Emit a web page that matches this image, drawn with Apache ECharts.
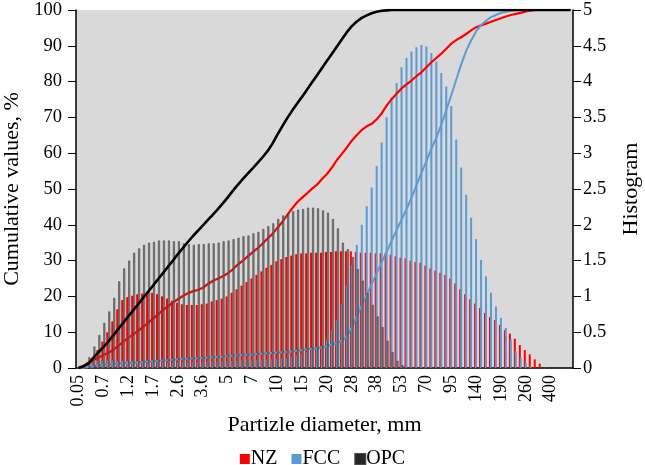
<!DOCTYPE html>
<html>
<head>
<meta charset="utf-8">
<script src="https://cdn.jsdelivr.net/npm/echarts@6/dist/echarts.min.js"></script>
<style>
  html, body { margin: 0; padding: 0; background: #fff; }
  #chart { width: 645px; height: 465px; }
</style>
</head>
<body>
<div id="chart"></div>
<script>
// size classes, mm (label shown every 5th class)
const sizes = ['0.05','0.53','0.57','0.61','0.65','0.7','0.78','0.87','0.97','1.08',
  '1.2','1.28','1.37','1.47','1.58','1.7','1.9','2.05','2.2','2.4',
  '2.6','2.8','3','3.2','3.4','3.6','3.8','4.1','4.4','4.7',
  '5','5.4','5.8','6.2','6.6','7','7.5','8.1','8.7','9.3',
  '10','10.9','11.8','12.8','13.9','15','15.9','16.9','17.9','18.9',
  '20','21.4','22.9','24.5','26.2','28','29.8','31.8','33.8','35.8',
  '38','40.6','43.4','46.4','49.6','53','55.9','59.1','62.6','66.2',
  '70','74.3','78.8','83.8','89.2','95','102','111','120','129',
  '140','148','156','166','178','190','202','215','229','244',
  '260','283','307','335','366','400','435','475','515','560'];

// histogram values (right axis)
const nzHist = [0,0.02,0.08,0.14,0.25,0.37,0.5,0.65,0.82,0.95,
  0.99,1.01,1.03,1.04,1.05,1.05,1.03,1.0,0.97,0.94,
  0.91,0.89,0.88,0.88,0.88,0.89,0.9,0.93,0.95,0.97,
  1.0,1.05,1.1,1.15,1.2,1.25,1.3,1.35,1.4,1.44,
  1.49,1.52,1.55,1.57,1.59,1.6,1.6,1.61,1.61,1.61,
  1.62,1.62,1.63,1.63,1.63,1.63,1.62,1.61,1.61,1.61,
  1.6,1.6,1.6,1.58,1.56,1.54,1.53,1.5,1.48,1.47,
  1.43,1.39,1.36,1.33,1.3,1.25,1.18,1.1,1.03,0.96,
  0.9,0.84,0.77,0.71,0.67,0.6,0.53,0.48,0.41,0.32,
  0.25,0.19,0.12,0.06,0.01,0,0,0,0,0];

const fccHist = [0,0.02,0.05,0.08,0.1,0.1,0.11,0.11,0.1,0.1,
  0.1,0.09,0.09,0.09,0.08,0.08,0.08,0.08,0.08,0.08,
  0.08,0.08,0.08,0.08,0.08,0.09,0.09,0.09,0.09,0.1,
  0.1,0.1,0.1,0.11,0.11,0.11,0.11,0.12,0.12,0.12,
  0.13,0.13,0.14,0.16,0.18,0.2,0.22,0.25,0.28,0.3,
  0.4,0.53,0.67,0.9,1.16,1.44,1.72,2.0,2.26,2.52,
  2.82,3.15,3.5,3.78,3.98,4.2,4.33,4.42,4.48,4.51,
  4.49,4.4,4.28,4.12,3.93,3.66,3.19,2.8,2.42,2.1,
  1.8,1.51,1.28,1.05,0.86,0.7,0.56,0.4,0.23,0.14,
  0.07,0.02,0,0,0,0,0,0,0,0];

const opcHist = [0,0.03,0.15,0.3,0.46,0.63,0.79,0.98,1.21,1.39,
  1.5,1.61,1.67,1.72,1.75,1.76,1.78,1.78,1.78,1.77,
  1.77,1.74,1.73,1.72,1.73,1.73,1.74,1.74,1.75,1.77,
  1.78,1.8,1.82,1.84,1.85,1.88,1.9,1.94,1.98,2.02,
  2.08,2.13,2.16,2.19,2.21,2.22,2.24,2.24,2.23,2.2,
  2.17,2.08,1.95,1.75,1.66,1.55,1.38,1.22,1.05,0.88,
  0.72,0.57,0.38,0.22,0.1,0.04,0,0,0,0,
  0,0,0,0,0,0,0,0,0,0,
  0,0,0,0,0,0,0,0,0,0,
  0,0,0,0,0,0,0,0,0,0];

// cumulative values, % (left axis)
const nzCum = [0,0.6,1.5,2.2,2.9,3.6,4.2,5.1,6.2,7.3,
  8.4,9.4,10.4,11.5,12.6,13.8,15,16.2,17.2,18.3,
  19.2,20.1,20.9,21.4,21.8,22.4,23.4,24.3,24.9,25.6,
  26.4,27.5,28.8,29.9,31.1,32.3,33.4,34.7,36.1,37.4,
  39.1,40.8,42.7,44.6,46.3,47.6,48.8,50.1,51.2,52.8,
  54.2,56,58.1,59.8,61.6,63.5,65.1,66.5,67.5,68.2,
  69.5,71.1,73.3,75.1,76.6,78.1,79.2,80.3,81.5,82.6,
  84,85.4,86.6,87.8,89.2,90.6,91.6,92.4,93.3,94.3,
  95.2,95.7,96.2,96.7,97.2,97.7,98.2,98.6,98.9,99.2,
  99.6,99.9,100,100,100,100,100,100,100,100];

const fccCum = [0,0.1,0.3,0.5,0.7,0.9,1.0,1.1,1.2,1.3,
  1.4,1.5,1.6,1.7,1.8,1.9,2.0,2.1,2.2,2.3,
  2.4,2.5,2.6,2.7,2.7,2.8,2.9,3.0,3.1,3.2,
  3.3,3.4,3.5,3.6,3.7,3.8,3.9,4.0,4.1,4.2,
  4.3,4.4,4.5,4.6,4.8,5.0,5.2,5.4,5.6,5.8,
  6.1,6.5,7.0,7.6,9,11.4,14.5,17.6,20.5,23.5,
  26.5,29.5,32.5,35.5,38.5,41.4,44.4,47.5,51,54.5,
  57.8,61.3,64.3,68,72,76.2,80.5,84.8,88.6,91.5,
  94,95.8,97,98,98.6,99.2,99.5,99.8,100,100,
  100,100,100,100,100,100,100,100,100,100];

const opcCum = [0,0.5,1.2,2.8,4.4,5.8,7.4,9.1,10.9,12.6,
  14.4,16.1,17.8,19.6,21.3,23,24.8,26.5,28.3,30,
  31.8,33.5,35.2,36.8,38.3,39.8,41.3,42.8,44.3,45.9,
  47.6,49.4,51.1,52.7,54.2,55.7,57.2,58.8,60.5,62.6,
  65.1,67.5,69.8,71.9,73.9,75.8,77.8,79.8,81.8,83.8,
  85.8,87.8,89.8,91.8,93.8,95.5,96.8,97.8,98.5,99.1,
  99.5,99.8,99.9,100,100,100,100,100,100,100,
  100,100,100,100,100,100,100,100,100,100,
  100,100,100,100,100,100,100,100,100,100,
  100,100,100,100,100,100,100,100,100,100];

const font = 'Liberation Serif';
const chart = echarts.init(document.getElementById('chart'));

chart.setOption({
  animation: false,
  backgroundColor: '#fff',
  textStyle: { fontFamily: font, color: '#000' },
  grid: {
    left: 76, right: 72, top: 10, bottom: 97,
    outerBoundsMode: 'none',
    show: true, backgroundColor: '#d9d9d9', borderWidth: 0
  },
  legend: {
    top: 444,
    left: 'center',
    icon: 'rect',
    itemWidth: 10,
    itemHeight: 10,
    itemGap: 14,
    textStyle: { fontFamily: font, fontSize: 20, color: '#000', padding: [0, 0, 0, -4] },
    data: [
      { name: 'NZ', itemStyle: { color: '#ff0000' } },
      { name: 'FCC', itemStyle: { color: '#5b9bd5' } },
      { name: 'OPC', itemStyle: { color: '#000' } }
    ]
  },
  xAxis: {
    type: 'category',
    data: sizes,
    name: 'Partizle diameter, mm',
    nameLocation: 'middle',
    nameGap: 44,
    nameTextStyle: { fontFamily: font, fontSize: 22, color: '#000' },
    axisLine: { lineStyle: { color: '#000', width: 1.5 } },
    axisTick: { interval: 0, length: 5, lineStyle: { color: '#000' } },
    axisLabel: { interval: 4, rotate: 90, fontFamily: font, fontSize: 18, color: '#000', margin: 7 }
  },
  yAxis: [{
    type: 'value',
    min: 0, max: 100, interval: 10,
    name: 'Cumulative values, %',
    nameLocation: 'middle',
    nameGap: 53,
    nameTextStyle: { fontFamily: font, fontSize: 22, color: '#000' },
    axisLine: { show: true, lineStyle: { color: '#000', width: 1.5 } },
    axisTick: { show: true, length: 8, lineStyle: { color: '#000' } },
    axisLabel: { fontFamily: font, fontSize: 18.5, color: '#000', margin: 14 },
    splitLine: { show: false }
  }, {
    type: 'value',
    min: 0, max: 5, interval: 0.5,
    name: 'Histogram',
    nameLocation: 'middle',
    nameGap: 47,
    nameRotate: 90,
    nameTextStyle: { fontFamily: font, fontSize: 22, color: '#000' },
    axisLine: { show: true, lineStyle: { color: '#000', width: 1.5 } },
    axisTick: { show: true, length: 8, lineStyle: { color: '#000' } },
    axisLabel: { fontFamily: font, fontSize: 18.5, color: '#000', margin: 10 },
    splitLine: { show: false }
  }],
  series: [
    {
      name: 'NZ', type: 'bar', yAxisIndex: 1, data: nzHist,
      barWidth: 2, barGap: '-50%', z: 1,
      itemStyle: { color: '#ff0000' }
    },
    {
      name: 'FCC', type: 'bar', yAxisIndex: 1, data: fccHist,
      barWidth: 2, barGap: '-50%', z: 1,
      itemStyle: { color: '#5b9bd5' }
    },
    {
      name: 'OPC', type: 'bar', yAxisIndex: 1, data: opcHist,
      barWidth: 2, barGap: '-50%', z: 4,
      itemStyle: { color: '#7a7a7a', borderColor: '#2a2a2a', borderWidth: 0.6, opacity: 0.85 }
    },
    {
      name: 'NZ cumulative', type: 'line', data: nzCum, yAxisIndex: 0,
      symbol: 'none', z: 3,
      lineStyle: { color: '#ff0000', width: 2.2 }
    },
    {
      name: 'FCC cumulative', type: 'line', data: fccCum, yAxisIndex: 0,
      symbol: 'none', z: 3,
      lineStyle: { color: '#5b9bd5', width: 2 }
    },
    {
      name: 'OPC cumulative', type: 'line', data: opcCum, yAxisIndex: 0,
      symbol: 'none', z: 5,
      lineStyle: { color: '#000', width: 2.6 }
    }
  ]
});
</script>
</body>
</html>
